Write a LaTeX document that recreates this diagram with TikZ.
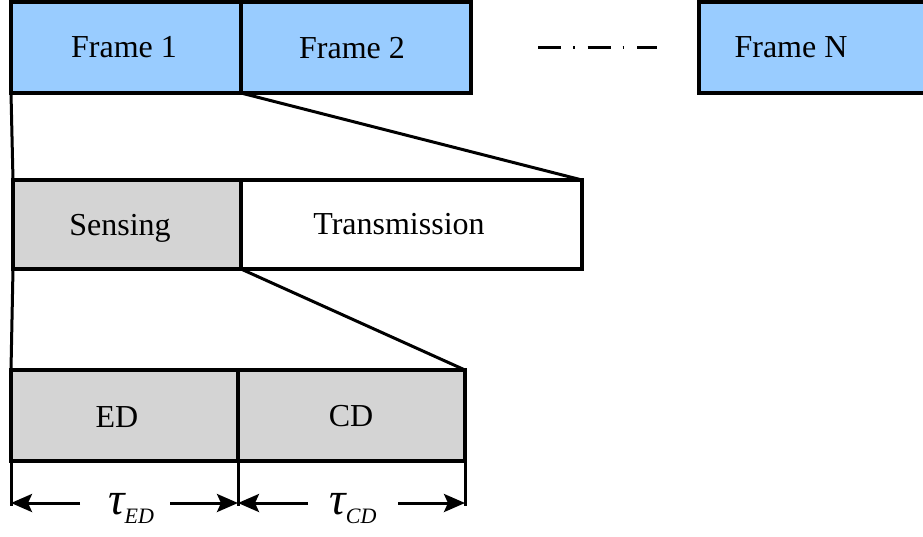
\documentclass[tikz,border=0pt]{standalone}
\usepackage{fontspec}
\setmainfont{Liberation Serif}
\usetikzlibrary{arrows.meta,calc}
\definecolor{frameblue}{HTML}{99CCFF}
\definecolor{slotgray}{HTML}{D4D4D4}
\begin{document}
\begin{tikzpicture}[x=1pt,y=-1pt,
  slot/.style={draw=black,line width=3.2pt,rectangle,inner sep=0pt,outer sep=0pt,anchor=north west},
  lbl/.style={font=\fontsize{32}{38}\selectfont,inner sep=0pt,anchor=base},
  zoomline/.style={line width=3pt},
  tick/.style={line width=3pt},
  dimarrow/.style={line width=3pt,-{Stealth[length=21pt,width=18pt,inset=4pt]}},
  taulbl/.style={inner sep=0pt,anchor=base}]
\useasboundingbox (0,0) rectangle (923,536);
\clip (0,0) rectangle (923,536);

% top row: frames
\node[slot,fill=frameblue,minimum width=230pt,minimum height=91pt] (f1) at (11,2) {};
\node[slot,fill=frameblue,minimum width=230pt,minimum height=91pt] (f2) at (241,2) {};
\node[slot,fill=frameblue,minimum width=240pt,minimum height=91pt] (fn) at (699,2) {};
\node[lbl] (t1) at (124,57) {Frame 1};
\node[lbl] (t2) at (352,58) {Frame 2};
\node[lbl] (tn) at (791,57) {Frame N};
\coordinate (gapA) at (538,47);
\coordinate (gapB) at (657,47);
\draw[line width=3pt,dash pattern=on 23pt off 12pt on 1.5pt off 13pt] (gapA) -- (gapB);

% middle row: one frame
\node[slot,fill=slotgray,minimum width=228pt,minimum height=89pt] (sens) at (13,180) {};
\node[slot,fill=white,minimum width=341pt,minimum height=89pt] (trans) at (241,180) {};
\node[lbl] (ts) at (120,235) {Sensing};
\node[lbl] (tt) at (399,234) {Transmission};

% bottom row: sensing phase
\node[slot,fill=slotgray,minimum width=227pt,minimum height=91pt] (ed) at (11,370) {};
\node[slot,fill=slotgray,minimum width=227pt,minimum height=91pt] (cd) at (238,370) {};
\node[lbl] (ted) at (117,427) {ED};
\node[lbl] (tcd) at (351,426) {CD};

% zoom lines
\draw[zoomline] (f1.south west) -- (sens.north west);
\draw[zoomline] (f1.south east) -- (trans.north east);
\draw[zoomline] (sens.south west) -- (ed.north west);
\draw[zoomline] (sens.south east) -- (cd.north east);

% duration markers
\coordinate (m0) at (11,506);
\coordinate (m1) at (238,506);
\coordinate (m2) at (465,506);
\draw[tick] (ed.south west) -- (m0);
\draw[tick] (ed.south east) -- (m1);
\draw[tick] (cd.south east) -- (m2);
\coordinate (a0) at (80,503);
\coordinate (a1) at (170,503);
\coordinate (a2) at (308,503);
\coordinate (a3) at (398,503);
\draw[dimarrow] (a0) -- (m0 |- a0);
\draw[dimarrow] (a1) -- (m1 |- a1);
\draw[dimarrow] (a2) -- (m1 |- a2);
\draw[dimarrow] (a3) -- (m2 |- a3);
\node[taulbl] (tau1) at (131,514) {\fontsize{46}{50}\selectfont\itshape τ\raisebox{-9pt}{\fontsize{22}{24}\selectfont ED}};
\node[taulbl] (tau2) at (353,514) {\fontsize{46}{50}\selectfont\itshape τ\raisebox{-9pt}{\fontsize{22}{24}\selectfont CD}};
\end{tikzpicture}
\end{document}
